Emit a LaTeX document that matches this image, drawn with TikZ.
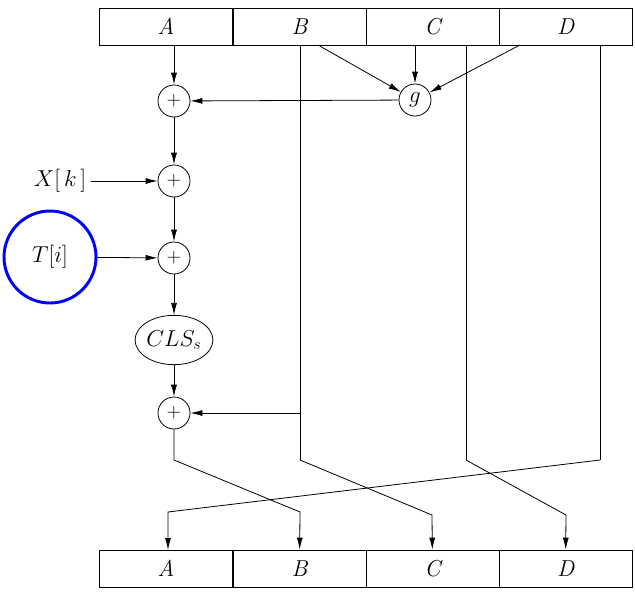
\documentclass[tikz,border=0pt]{standalone}
\usetikzlibrary{arrows.meta,shapes.geometric}
\begin{document}
\begin{tikzpicture}[x=0.75pt,y=-0.75pt,
  ar/.style={-{Latex[length=9pt,width=4.5pt]}},
  ln/.style={line width=0.6pt},
  add/.style={circle,draw,line width=0.6pt,minimum size=24pt,inner sep=0pt,font=\Large},
  cell/.style={draw,line width=0.6pt,minimum width=99.75pt,minimum height=27.75pt,inner sep=0pt,font=\LARGE\itshape}]
\useasboundingbox (0,0) rectangle (635,597);
\foreach \n/\x in {A/166,B/299.5,C/432.5,D/565.5}{\node[cell] (t\n) at (\x,26.5) {\n};}
\foreach \n/\x in {A/166,B/299.5,C/432.5,D/565.5}{\node[cell] (b\n) at (\x,568.5) {\n};}
\node[add] (p1) at (174,101) {$+$};
\node[add] (p2) at (174,181) {$+$};
\node[add] (p3) at (174,258) {$+$};
\node[draw,ellipse,line width=0.6pt,minimum width=48pt,minimum height=37pt,inner sep=0pt,font=\LARGE] (cls) at (174,340) {$CLS_s$};
\node[add] (p4) at (174,413) {$+$};
\node[add,font=\LARGE] (g) at (415,100) {$g$};
\node[font=\LARGE] (x) at (60,181) {$X[\,k\,]$};
\node[circle,draw=blue,line width=2.2pt,minimum size=69pt,font=\LARGE] (t) at (50,257) {$T[i]$};
\coordinate (aTop) at (174,45);
\coordinate (bTop) at (300,45);
\coordinate (b1) at (318,45);
\coordinate (cTop) at (415,45);
\coordinate (d1) at (520,45);
\coordinate (c2Top) at (466,45);
\coordinate (dTop) at (600,45);
\coordinate (bb) at (300,460);
\coordinate (bj) at (300,413);
\coordinate (cb) at (466,460);
\coordinate (db) at (600,460);
\draw[ln,ar] (aTop) -- (p1);
\draw[ln,ar] (p1) -- (p2);
\draw[ln,ar] (p2) -- (p3);
\draw[ln,ar] (p3) -- (cls);
\draw[ln,ar] (cls) -- (p4);
\draw[ln,ar] (x) -- (p2);
\draw[ln,ar] (t) -- (p3);
\draw[ln,ar] (g) -- (p1);
\draw[ln,ar] (b1) -- (g);
\draw[ln,ar] (cTop) -- (g);
\draw[ln,ar] (d1) -- (g);
\draw[ln] (bTop) -- (bb);
\draw[ln,ar] (bj) -- (p4);
\draw[ln] (c2Top) -- (cb);
\draw[ln] (dTop) -- (db);
\draw[ln,ar] (bb) -- (432,515) -- (bC);
\draw[ln,ar] (cb) -- (566,515) -- (bD);
\draw[ln,ar] (db) -- (168,512) -- (168,550);
\draw[ln,ar] (p4) -- (174,460) -- (300,512) -- (bB);
\end{tikzpicture}
\end{document}
